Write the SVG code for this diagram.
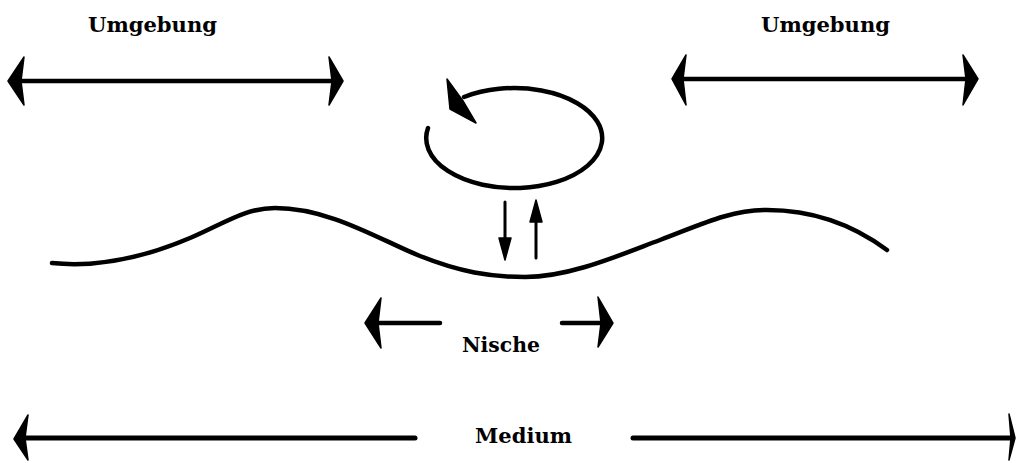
<svg xmlns="http://www.w3.org/2000/svg" width="1016" height="463" viewBox="0 0 1016 463">
<style>
.ln{stroke:#000;stroke-width:4.5;fill:none;stroke-linecap:round}
.hd{fill:#000;stroke:#000;stroke-width:1.5;stroke-linejoin:round}
.lb{font-family:"DejaVu Serif","Liberation Serif",serif;font-weight:bold;font-size:21px;fill:#000}
</style>
<rect width="1016" height="463" fill="#fff"/>
<g id="umgebung-left">
<text class="lb" x="88" y="32" textLength="129" lengthAdjust="spacingAndGlyphs">Umgebung</text>
<line class="ln" x1="22" y1="81" x2="331" y2="81"/>
<polygon class="hd" points="8,81 24,57 21,81 24,105"/>
<polygon class="hd" points="343,81 329,57 332,81 329,105"/>
</g>
<g id="umgebung-right">
<text class="lb" x="761" y="32" textLength="129" lengthAdjust="spacingAndGlyphs">Umgebung</text>
<line class="ln" x1="683" y1="79" x2="965" y2="79"/>
<polygon class="hd" points="672,79 686,55 683,79 686,105"/>
<polygon class="hd" points="978,79 963,55 966,79 963,105"/>
</g>
<g id="cycle">
<path class="ln" d="M428,128 A88,50 0 1 0 464,97"/>
<polygon class="hd" points="447,79 450,109 476,123 463,101"/>
</g>
<g id="surface">
<path class="ln" d="M52,263 C100,268 150,255 190,238 C225,223 245,208 275,208 C330,208 380,240 420,256 C460,272 490,277 525,277 C570,277 620,255 660,240 C700,225 730,210 767,210 C820,210 860,230 887,250"/>
</g>
<g id="exchange">
<line class="ln" style="stroke-width:3" x1="505" y1="202" x2="505" y2="242"/>
<polygon class="hd" points="499,238 511,238 505,260"/>
<line class="ln" style="stroke-width:3" x1="536" y1="218" x2="536" y2="258"/>
<polygon class="hd" points="530,222 542,222 536,200"/>
</g>
<g id="nische">
<line class="ln" x1="378" y1="323" x2="440" y2="323"/>
<polygon class="hd" points="365,323 381,298 378,323 381,348"/>
<line class="ln" x1="562" y1="323" x2="600" y2="323"/>
<polygon class="hd" points="613,323 598,297 601,323 598,347"/>
<text class="lb" x="462" y="352" textLength="78" lengthAdjust="spacingAndGlyphs">Nische</text>
</g>
<g id="medium">
<line class="ln" style="stroke-width:5" x1="26" y1="438" x2="415" y2="438"/>
<polygon class="hd" points="14,439 28,415 25,438 28,460"/>
<line class="ln" style="stroke-width:5" x1="633" y1="438" x2="1011" y2="438"/>
<polygon class="hd" points="1009,414 1015,438 1009,460 1011,438"/>
<text class="lb" x="475" y="443" textLength="97" lengthAdjust="spacingAndGlyphs">Medium</text>
</g>
</svg>
